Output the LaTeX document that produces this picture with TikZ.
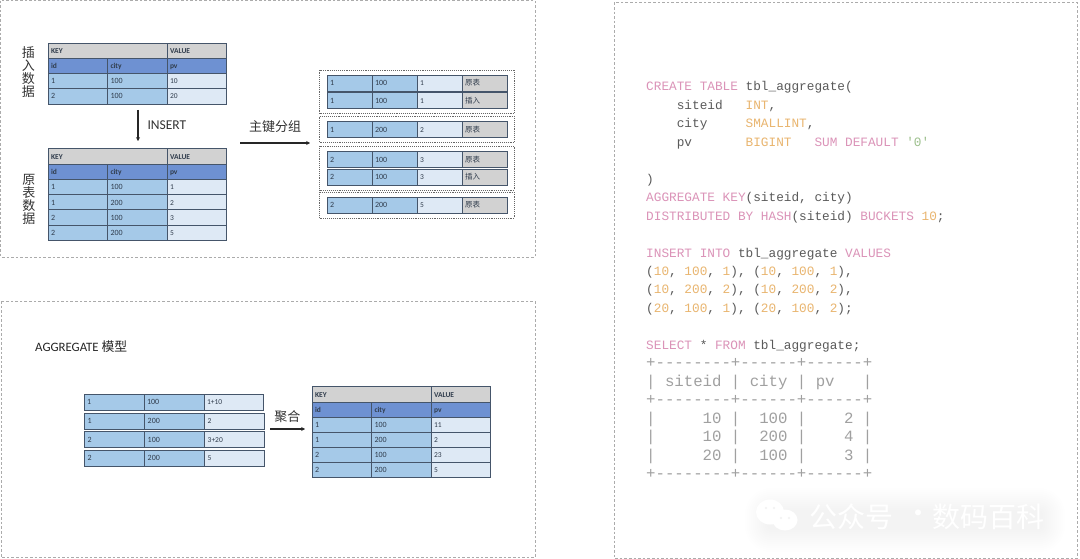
\documentclass[tikz,border=0pt]{standalone}
\usepackage{fontspec}
\setmainfont{Carlito}
\setmonofont{Liberation Mono}
\newfontfamily\cjk{Noto Sans CJK SC}
\usetikzlibrary{arrows.meta,positioning,fit}
\definecolor{framegray}{HTML}{ABABAB}
\definecolor{cellline}{HTML}{45556A}
\definecolor{headgray}{HTML}{D2D2D2}
\definecolor{headblue}{HTML}{6E91D2}
\definecolor{keyblue}{HTML}{A5C9E8}
\definecolor{valblue}{HTML}{DEE9F5}
\definecolor{celltext}{HTML}{303C4C}
\definecolor{sqltext}{HTML}{5A5A5A}
\definecolor{sqlpink}{HTML}{DB93B8}
\definecolor{sqlorange}{HTML}{E9B56F}
\definecolor{sqlgreen}{HTML}{9DC08D}
\definecolor{sqlgray}{HTML}{A0A0A0}
\tikzset{
  panel/.style={draw=framegray,line width=1pt,dash pattern=on 2.6pt off 2pt},
  cell/.style={draw=cellline,line width=.8pt,outer sep=0pt,inner xsep=3pt,inner ysep=0pt,
    minimum height=15.4pt,text height=5.2pt,text depth=0pt,text width=53.5pt,align=left,
    text=celltext,font=\fontsize{8}{9}\selectfont},
  keycell/.style={cell,fill=keyblue},
  valcell/.style={cell,fill=valblue,font=\fontsize{7.5}{9}\selectfont},
  headcell/.style={cell,fill=headgray,font=\fontsize{7.5}{9}\selectfont\bfseries},
  idcell/.style={cell,fill=headblue,font=\fontsize{7.5}{9}\selectfont\bfseries},
  srccell/.style={cell,fill=headgray,font=\fontsize{7.5}{9}\selectfont\cjk},
  groupbox/.style={draw=black!60,line width=.6pt,dash pattern=on .9pt off 1pt,inner xsep=7.5pt,inner ysep=5pt},
  flow/.style={draw=black!85,line width=1.2pt,-{Stealth[length=3.8pt,width=4pt]}},
  cjklabel/.style={text=black!80,font=\fontsize{13}{13}\selectfont\cjk,inner sep=0pt,align=center},
  sqlline/.style={anchor=base west,inner sep=0pt,text=sqltext,font=\fontsize{12.75}{14}\selectfont\ttfamily},
  resline/.style={sqlline,text=sqlgray,font=\fontsize{15.7}{16}\selectfont\ttfamily},
}
\newcommand{\sqlkw}[1]{\textcolor{sqlpink}{#1}}
\newcommand{\sqlty}[1]{\textcolor{sqlorange}{#1}}
\newcommand{\sqlstr}[1]{\textcolor{sqlgreen}{#1}}

\begin{document}
\begin{tikzpicture}[x=1pt,y=-1pt]
  \fill[white] (0,0) rectangle (1080,559);
  \useasboundingbox (0,0) rectangle (1080,559);
  \draw[panel] (0.8,0.6) rectangle (535,257);
  \draw[panel] (1.2,301) rectangle (535,557.5);
  \draw[panel] (614,2.5) rectangle (1077.5,558);

  % insert table
  \node[headcell,anchor=west,text width=113pt] (insK) at (48,50.8) {KEY};
  \node[headcell,right=0pt of insK] (insV) {VALUE};
  \node[idcell,anchor=west] (insId) at (48,66.2) {id};
  \node[idcell,right=0pt of insId] (insCity) {city};
  \node[idcell,right=0pt of insCity] (insPv) {pv};
  \foreach \i/\y/\a/\b/\c in {1/81.2/1/100/10,2/96.3/2/100/20} {
    \node[keycell,anchor=west] (ins\i a) at (48,\y) {\a};
    \node[keycell,right=0pt of ins\i a] (ins\i b) {\b};
    \node[valcell,right=0pt of ins\i b] (ins\i c) {\c};
  }
  % base table
  \node[headcell,anchor=west,text width=113pt] (baseK) at (48,156.5) {KEY};
  \node[headcell,right=0pt of baseK] (baseV) {VALUE};
  \node[idcell,anchor=west] (baseId) at (48,172) {id};
  \node[idcell,right=0pt of baseId] (baseCity) {city};
  \node[idcell,right=0pt of baseCity] (basePv) {pv};
  \foreach \i/\y/\a/\b/\c in {1/187.3/1/100/1,2/202.5/1/200/2,3/217.6/2/100/3,4/232.7/2/200/5} {
    \node[keycell,anchor=west] (base\i a) at (48,\y) {\a};
    \node[keycell,right=0pt of base\i a] (base\i b) {\b};
    \node[valcell,right=0pt of base\i b] (base\i c) {\c};
  }
  \node[cjklabel] (insTitle) at (28.3,72) {插\\入\\数\\据};
  \node[cjklabel] (baseTitle) at (29,199.5) {原\\表\\数\\据};
  \coordinate (insFrom) at (138,110);
  \coordinate (insTo) at (138,141);
  \draw[flow] (insFrom) -- (insTo);
  \node[anchor=west,inner sep=0pt,text=black!80,font=\fontsize{13.5}{14}\selectfont] (insLabel) at (147.3,125) {INSERT};

  % grouped rows
  \node[cjklabel] (groupLabel) at (275,127) {主键分组};
  \coordinate (groupFrom) at (240,143);
  \coordinate (groupTo) at (310,143);
  \draw[flow] (groupFrom) -- (groupTo);
  \foreach \i/\y/\a/\b/\c/\d in {1/83/1/100/1/原表,2/100.5/1/100/1/插入,3/129.5/1/200/2/原表,4/159.5/2/100/3/原表,5/177/2/100/3/插入,6/205/2/200/5/原表} {
    \node[keycell,anchor=west,text width=39pt,minimum height=16pt] (grp\i a) at (327,\y) {\a};
    \node[keycell,text width=39pt,minimum height=16pt,right=0pt of grp\i a] (grp\i b) {\b};
    \node[valcell,text width=39pt,minimum height=16pt,right=0pt of grp\i b] (grp\i c) {\c};
    \node[srccell,text width=39pt,minimum height=16pt,right=0pt of grp\i c] (grp\i d) {\d};
  }
  \node[groupbox,fit=(grp1a)(grp2d)] (groupA) {};
  \node[groupbox,fit=(grp3a)(grp3d)] (groupB) {};
  \node[groupbox,fit=(grp4a)(grp5d)] (groupC) {};
  \node[groupbox,fit=(grp6a)(grp6d)] (groupD) {};

  % aggregate model
  \node[anchor=west,inner sep=0pt,text=black!85,font=\fontsize{12.8}{14}\selectfont] (aggTitle) at (35,347) {AGGREGATE {\cjk 模型}};
  \foreach \i/\x/\y/\a/\b/\c in {1/84/402/1/100/1+10,2/84.7/421/1/200/2,3/84.7/439.5/2/100/3+20,4/84.7/458/2/200/5} {
    \node[keycell,anchor=west,text width=54pt,minimum height=16pt] (agg\i a) at (\x,\y) {\a};
    \node[keycell,text width=54pt,minimum height=16pt,right=0pt of agg\i a] (agg\i b) {\b};
    \node[valcell,text width=53.5pt,minimum height=16pt,right=0pt of agg\i b] (agg\i c) {\c};
  }
  \node[cjklabel] (mergeLabel) at (287.3,416.7) {聚合};
  \coordinate (mergeFrom) at (270,429);
  \coordinate (mergeTo) at (305,429);
  \draw[flow] (mergeFrom) -- (mergeTo);
  \node[headcell,anchor=west,text width=113pt] (sumK) at (312,394.5) {KEY};
  \node[headcell,right=0pt of sumK] (sumV) {VALUE};
  \node[idcell,anchor=west] (sumId) at (312,409.7) {id};
  \node[idcell,right=0pt of sumId] (sumCity) {city};
  \node[idcell,right=0pt of sumCity] (sumPv) {pv};
  \foreach \i/\y/\a/\b/\c in {1/424.7/1/100/11,2/439.7/1/200/2,3/454.7/2/100/23,4/469.7/2/200/5} {
    \node[keycell,anchor=west] (sum\i a) at (312,\y) {\a};
    \node[keycell,right=0pt of sum\i a] (sum\i b) {\b};
    \node[valcell,right=0pt of sum\i b] (sum\i c) {\c};
  }

  % sql
  \foreach \n/\txt in {
    0/{\sqlkw{CREATE TABLE} tbl\_aggregate(},
    1/{~~~~siteid~~~\sqlty{INT},},
    2/{~~~~city~~~~~\sqlty{SMALLINT},},
    3/{~~~~pv~~~~~~~\sqlty{BIGINT}~~~\sqlkw{SUM DEFAULT} \sqlstr{'0'}},
    5/{)},
    6/{\sqlkw{AGGREGATE KEY}(siteid, city)},
    7/{\sqlkw{DISTRIBUTED BY HASH}(siteid) \sqlkw{BUCKETS} \sqlty{10};},
    9/{\sqlkw{INSERT INTO} tbl\_aggregate \sqlkw{VALUES}},
    10/{(\sqlty{10}, \sqlty{100}, \sqlty{1}), (\sqlty{10}, \sqlty{100}, \sqlty{1}),},
    11/{(\sqlty{10}, \sqlty{200}, \sqlty{2}), (\sqlty{10}, \sqlty{200}, \sqlty{2}),},
    12/{(\sqlty{20}, \sqlty{100}, \sqlty{1}), (\sqlty{20}, \sqlty{100}, \sqlty{2});},
    14/{\sqlkw{SELECT} * \sqlkw{FROM} tbl\_aggregate;}} {
    \node[sqlline] (sql\n) at (646,{91+18.45*\n}) {\txt};
  }
  \foreach \n/\txt in {
    15/{+--------+------+------+},
    16/{| siteid | city | pv~~~|},
    17/{+--------+------+------+},
    18/{|~~~~~10 |~~100 |~~~~2 |},
    19/{|~~~~~10 |~~200 |~~~~4 |},
    20/{|~~~~~20 |~~100 |~~~~3 |},
    21/{+--------+------+------+}} {
    \node[resline] (res\n) at (646,{91+18.45*\n}) {\txt};
  }

  % watermark
  \foreach \d in {0,2,...,22} {
    \fill[black,opacity=.005,rounded corners=26-\d] (745+\d,488+\d) rectangle (1065-\d,552-\d);
  }
  \fill[white] (770,512) ellipse (14 and 12.5) (785,520) ellipse (12.5 and 10.5);
  \fill[black!6] (766,508) circle (1.1) (774,508) circle (1.1) (781,518) circle (1.1) (789,518) circle (1.1);
  \node[text=white,inner sep=0pt,font=\fontsize{28}{30}\selectfont\cjk] (markA) at (851,517) {公众号};
  \node[text=white,inner sep=0pt,font=\fontsize{28}{30}\selectfont\cjk] (markB) at (918,517) {·};
  \node[text=white,inner sep=0pt,font=\fontsize{28}{30}\selectfont\cjk] (markC) at (988,517) {数码百科};
\end{tikzpicture}
\end{document}
